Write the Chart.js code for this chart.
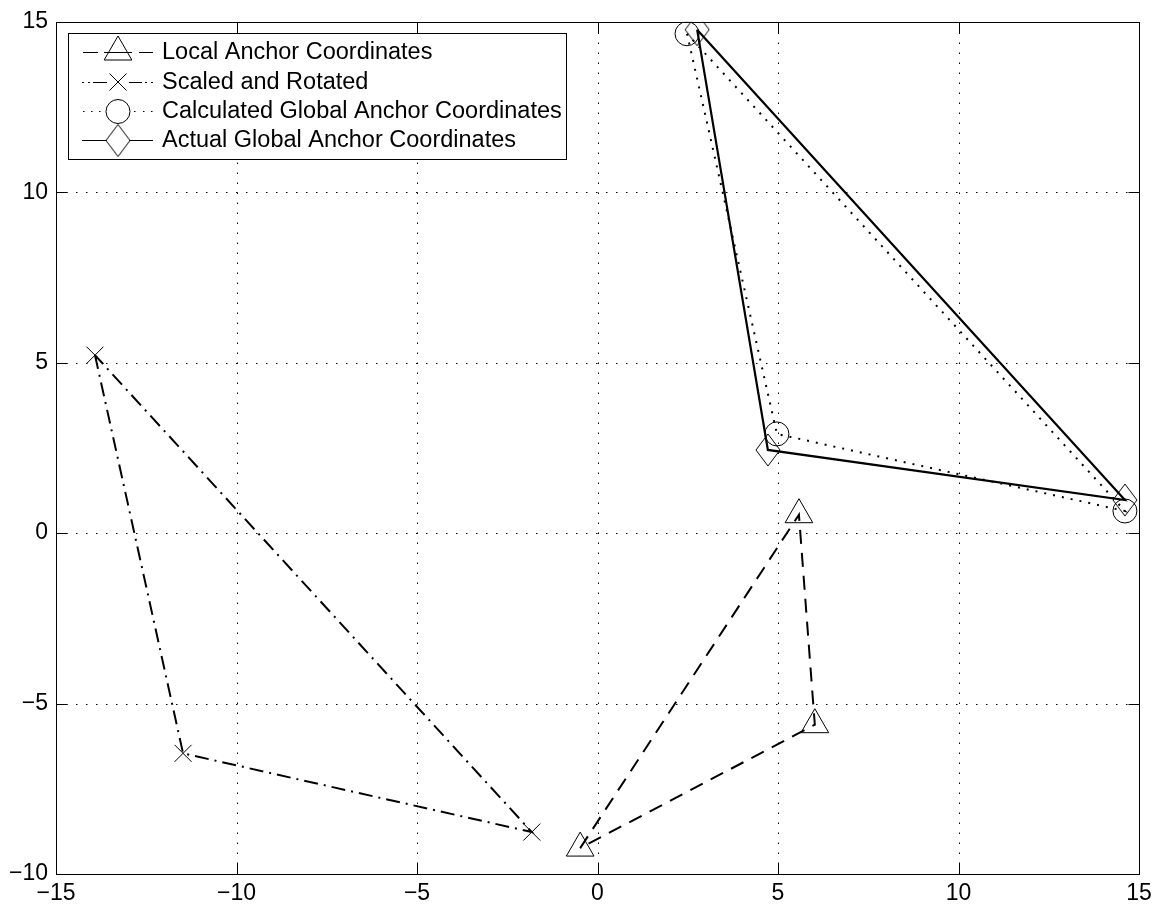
<!DOCTYPE html>
<html>
<head>
<meta charset="utf-8">
<script src="https://cdn.jsdelivr.net/npm/chart.js@4/dist/chart.umd.min.js"></script>
<style>
html,body{margin:0;padding:0;background:#fff;}
#wrap{width:1163px;height:911px;}
</style>
</head>
<body>
<div id="wrap"><canvas id="c" width="1163" height="911"></canvas></div>
<script>
// ---- data ----
const seriesNames = ['Local Anchor Coordinates','Scaled and Rotated','Calculated Global Anchor Coordinates','Actual Global Anchor Coordinates'];
const localX = [-0.48, 5.58, 6.02, -0.48];
const localY = [-9.24, 0.54, -5.62, -9.24];
const scaledX = [-13.92, -11.48, -1.82, -13.92];
const scaledY = [5.22, -6.46, -8.77, 5.22];
const calcX = [2.48, 4.97, 14.61, 2.48];
const calcY = [14.65, 2.91, 0.65, 14.65];
const actualX = [2.76, 4.72, 14.61, 2.76];
const actualY = [14.77, 2.44, 0.97, 14.77];
const xTicks = [-15, -10, -5, 0, 5, 10, 15];
const yTicks = [-10, -5, 0, 5, 10, 15];

const FONT = '"Liberation Sans", Arial, Helvetica, sans-serif';

function pts(xs, ys){ return xs.map((x,i)=>({x:x, y:ys[i]})); }

function diamondCanvas(){
  const c = document.createElement('canvas');
  c.width = 26; c.height = 34;
  const g = c.getContext('2d');
  g.strokeStyle = '#000'; g.lineWidth = 1;
  g.beginPath();
  g.moveTo(13, 1); g.lineTo(25, 17); g.lineTo(13, 33); g.lineTo(1, 17); g.closePath();
  g.stroke();
  return c;
}
const diamondImg = diamondCanvas();

function rad(r){ return ctx => ctx.dataIndex === 3 ? 0 : r; }

const datasets = [
  {label: seriesNames[0], data: pts(localX, localY), showLine: true, borderColor:'#000', borderWidth:2, borderDash:[14,9],
   pointStyle:'triangle', pointRadius: rad(16), pointBorderWidth:1, pointBorderColor:'#000', pointBackgroundColor:'rgba(0,0,0,0)'},
  {label: seriesNames[1], data: pts(scaledX, scaledY), showLine: true, borderColor:'#000', borderWidth:2, borderDash:[14,6,2,6],
   pointStyle:'crossRot', pointRadius: rad(12), pointBorderWidth:1, pointBorderColor:'#000', pointBackgroundColor:'rgba(0,0,0,0)'},
  {label: seriesNames[2], data: pts(calcX, calcY), showLine: true, borderColor:'#000', borderWidth:2, borderDash:[2,7],
   pointStyle:'circle', pointRadius: rad(12), pointBorderWidth:1, pointBorderColor:'#000', pointBackgroundColor:'rgba(0,0,0,0)'},
  {label: seriesNames[3], data: pts(actualX, actualY), showLine: true, borderColor:'#000', borderWidth:2.2,
   pointStyle: diamondImg, pointRadius: rad(13), pointBorderWidth:1, pointBorderColor:'#000', pointBackgroundColor:'rgba(0,0,0,0)'}
];

const fmt = v => String(v).replace('-', '\u2212');

const framePlugin = {
  id: 'frame',
  beforeDatasetsDraw(chart){
    const {ctx, chartArea: a, scales:{x, y}} = chart;
    ctx.save();
    ctx.strokeStyle = '#000'; ctx.lineWidth = 1;
    ctx.setLineDash([1.5, 8.5]);
    xTicks.forEach(v => {
      const px = Math.round(x.getPixelForValue(v)) + 0.5;
      ctx.beginPath(); ctx.moveTo(px, a.bottom); ctx.lineTo(px, a.top); ctx.stroke();
    });
    yTicks.forEach(v => {
      const py = Math.round(y.getPixelForValue(v)) + 0.5;
      ctx.beginPath(); ctx.moveTo(a.left, py); ctx.lineTo(a.right, py); ctx.stroke();
    });
    ctx.restore();
  },
  afterDraw(chart){
    const {ctx, chartArea: a, scales:{x, y}} = chart;
    ctx.save();
    ctx.strokeStyle = '#000'; ctx.lineWidth = 1; ctx.setLineDash([]);
    const L = Math.round(a.left)+0.5, R = Math.round(a.right)+0.5, T = Math.round(a.top)+0.5, B = Math.round(a.bottom)+0.5;
    ctx.strokeRect(L, T, R-L, B-T);
    const tl = 11;
    xTicks.forEach(v => {
      const px = Math.round(x.getPixelForValue(v)) + 0.5;
      ctx.beginPath(); ctx.moveTo(px, B); ctx.lineTo(px, B - tl); ctx.moveTo(px, T); ctx.lineTo(px, T + tl); ctx.stroke();
    });
    yTicks.forEach(v => {
      const py = Math.round(y.getPixelForValue(v)) + 0.5;
      ctx.beginPath(); ctx.moveTo(L, py); ctx.lineTo(L + tl, py); ctx.moveTo(R, py); ctx.lineTo(R - tl, py); ctx.stroke();
    });

    // legend
    const bx = 68.5, by = 33.5, bw = 498, bh = 126;
    ctx.fillStyle = '#fff';
    ctx.fillRect(bx, by, bw, bh);
    ctx.strokeRect(bx, by, bw, bh);
    const rows = [52, 82, 111, 140];
    const mx = 118;
    function seg(x1, x2, yy){ ctx.beginPath(); ctx.moveTo(x1, yy+0.5); ctx.lineTo(x2, yy+0.5); ctx.stroke(); }
    // row 1: dashed + triangle
    let yy = rows[0];
    seg(83, 98, yy); seg(104, 132, yy); seg(139, 153, yy);
    ctx.beginPath();
    const r = 16;
    ctx.moveTo(mx, yy - r); ctx.lineTo(mx + r*Math.sin(2*Math.PI/3), yy - r*Math.cos(2*Math.PI/3));
    ctx.lineTo(mx + r*Math.sin(4*Math.PI/3), yy - r*Math.cos(4*Math.PI/3)); ctx.closePath(); ctx.stroke();
    // row 2: dash-dot + cross
    yy = rows[1];
    seg(82, 84, yy); seg(88, 90, yy); seg(93, 107, yy); seg(129, 142, yy); seg(145, 147, yy); seg(151, 153, yy);
    const c = 8.5;
    ctx.beginPath(); ctx.moveTo(mx-c, yy-c); ctx.lineTo(mx+c, yy+c); ctx.moveTo(mx-c, yy+c); ctx.lineTo(mx+c, yy-c); ctx.stroke();
    // row 3: dotted + circle
    yy = rows[2];
    [83, 91, 99, 134, 143, 151].forEach(d => seg(d, d+1.5, yy));
    ctx.beginPath(); ctx.arc(mx, yy+0.5, 12, 0, Math.PI*2); ctx.stroke();
    // row 4: solid + diamond
    yy = rows[3];
    seg(82, 106, yy); seg(130, 153, yy);
    ctx.drawImage(diamondImg, mx - 13, yy - 17 + 0.5);
    // text
    ctx.fillStyle = '#000';
    ctx.font = '23.5px ' + FONT;
    ctx.textBaseline = 'middle';
    ctx.textAlign = 'left';
    seriesNames.forEach((n, i) => ctx.fillText(n, 162, rows[i] + 1));
    ctx.restore();
  }
};

new Chart(document.getElementById('c'), {
  type: 'scatter',
  data: { datasets },
  options: {
    responsive: false,
    animation: false,
    devicePixelRatio: 1,
    layout: { padding: { left: 0, right: 24, top: 20, bottom: 0 } },
    plugins: { legend: { display: false }, tooltip: { enabled: false } },
    scales: {
      x: {
        type: 'linear', min: -15, max: 15,
        afterBuildTicks: s => { s.ticks = xTicks.map(v => ({value: v})); },
        afterFit: s => { s.height = 37; },
        grid: { display: false, drawTicks: false },
        border: { display: false },
        ticks: { color: '#000', font: { family: FONT, size: 23 }, padding: 6, maxRotation: 0, callback: fmt }
      },
      y: {
        type: 'linear', min: -10, max: 15,
        afterBuildTicks: s => { s.ticks = yTicks.map(v => ({value: v})); },
        afterFit: s => { s.width = 56; },
        grid: { display: false, drawTicks: false },
        border: { display: false },
        ticks: { color: '#000', font: { family: FONT, size: 23 }, padding: 8, callback: fmt }
      }
    }
  },
  plugins: [framePlugin]
});
</script>
</body>
</html>
